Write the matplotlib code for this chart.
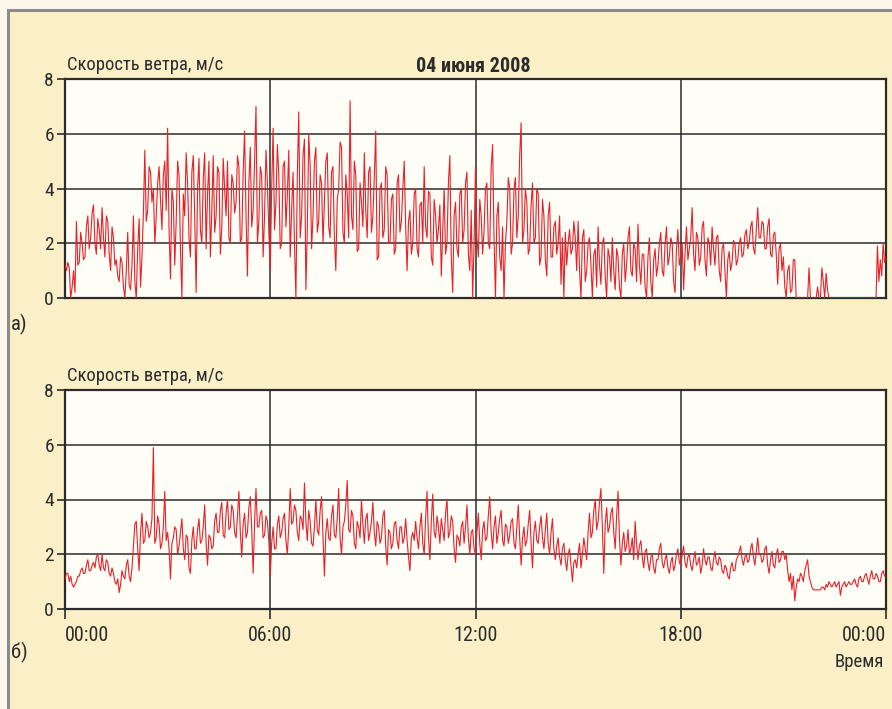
import numpy as np
import matplotlib
matplotlib.use("Agg")
import matplotlib.pyplot as plt
from matplotlib.patches import Rectangle
from matplotlib import font_manager

# wind speed, m/s, 24 readings per hour (2.5 min)
speed_a = [
    1.2, 1.0, 1.3, 1.1, 0.0, 0.4, 1.0, 0.2, 2.8, 1.2, 1.3, 2.4, 2.0, 1.4, 1.5, 2.6, 3.0, 1.8, 2.2, 3.1, 3.4, 2.0, 1.6, 2.9,  # 00
    2.5, 1.8, 3.3, 2.2, 1.5, 3.0, 2.8, 1.6, 1.0, 2.6, 2.2, 1.2, 1.4, 0.8, 0.6, 1.5, 1.3, 0.4, 0.0, 1.0, 2.4, 0.5, 0.3, 1.2,  # 01
    3.0, 0.6, 0.0, 1.8, 2.9, 0.4, 1.5, 3.1, 5.4, 2.8, 3.2, 4.8, 4.6, 3.5, 4.0, 2.0, 3.0, 4.2, 4.8, 3.6, 2.5, 4.5, 5.0, 3.2,  # 02
    6.2, 2.5, 0.7, 4.0, 3.5, 1.2, 2.8, 5.0, 4.5, 1.8, 0.0, 3.8, 3.0, 5.3, 4.2, 2.2, 1.5, 4.6, 5.2, 3.0, 0.2, 4.0, 5.1, 2.5,  # 03
    2.0, 4.4, 5.3, 1.8, 3.8, 5.0, 1.5, 3.2, 5.2, 2.4, 3.0, 4.8, 4.6, 1.6, 2.6, 5.1, 4.0, 3.0, 5.0, 2.2, 2.0, 4.5, 4.2, 3.1,  # 04
    3.5, 5.2, 4.8, 2.0, 2.2, 4.6, 6.1, 3.0, 0.8, 4.2, 5.5, 2.6, 3.2, 5.0, 7.0, 2.0, 2.8, 4.8, 4.5, 1.5, 3.0, 5.4, 4.2, 2.4,  # 05
    1.0, 4.0, 6.2, 2.5, 3.5, 5.6, 4.5, 1.8, 2.0, 4.8, 5.0, 2.6, 3.8, 5.4, 1.5, 3.2, 4.6, 2.0, 0.0, 4.5, 6.8, 2.2, 3.0, 5.2,  # 06
    5.8, 0.3, 2.5, 6.0, 4.8, 1.8, 3.0, 5.0, 5.5, 2.4, 2.8, 4.5, 4.2, 2.0, 3.5, 5.0, 5.3, 2.6, 2.2, 4.6, 4.8, 2.2, 1.0, 3.6,  # 07
    4.0, 5.7, 5.5, 2.4, 2.0, 4.5, 3.8, 2.2, 7.2, 3.0, 2.5, 5.0, 4.5, 1.7, 1.8, 4.2, 3.5, 2.6, 5.3, 3.2, 2.2, 4.6, 4.8, 2.4,  # 08
    3.0, 4.4, 6.1, 1.4, 1.5, 4.0, 4.2, 2.2, 2.5, 4.8, 4.5, 2.0, 2.0, 3.6, 3.8, 1.6, 1.8, 4.2, 4.5, 2.4, 2.8, 4.0, 5.0, 2.6,  # 09
    1.0, 2.8, 3.2, 1.6, 2.0, 3.8, 4.0, 1.8, 1.5, 3.4, 3.5, 2.0, 4.8, 2.6, 2.2, 3.9, 3.8, 1.5, 1.2, 3.6, 3.0, 2.0, 2.5, 3.4,  # 10
    0.8, 2.4, 4.0, 1.6, 2.0, 4.2, 5.2, 1.5, 0.2, 3.0, 3.5, 1.8, 1.5, 3.8, 4.0, 2.0, 2.5, 4.2, 4.6, 1.6, 1.0, 3.2, 0.0, 2.0,  # 11
    4.8, 2.2, 1.5, 3.6, 3.0, 1.6, 2.5, 4.0, 4.2, 2.0, 1.8, 4.8, 5.6, 2.2, 0.0, 3.0, 3.5, 1.5, 1.0, 2.6, 0.0, 2.0, 2.8, 4.4,  # 12
    4.0, 1.6, 2.0, 4.0, 4.4, 2.2, 3.0, 5.2, 6.4, 2.0, 2.5, 4.0, 3.5, 1.6, 1.8, 3.4, 4.2, 2.0, 2.2, 4.0, 3.8, 1.2, 1.5, 3.6,  # 13
    3.0, 1.4, 0.8, 3.0, 3.5, 1.5, 1.5, 2.6, 2.8, 1.6, 2.0, 3.0, 0.5, 2.2, 0.0, 2.4, 1.2, 2.0, 2.5, 1.6, 1.8, 2.8, 2.2, 1.0,  # 14
    2.8, 1.0, 0.0, 2.2, 2.5, 0.6, 1.0, 2.0, 2.2, 1.2, 0.0, 1.6, 1.8, 0.4, 2.6, 1.2, 0.5, 2.0, 2.2, 0.8, 0.0, 1.8, 1.5, 0.6,  # 15
    2.2, 1.0, 0.3, 1.8, 1.5, 0.4, 0.0, 1.6, 2.0, 0.6, 1.2, 2.2, 2.6, 1.0, 0.8, 2.0, 1.8, 0.6, 2.7, 1.2, 0.5, 1.6, 1.6, 0.4,  # 16
    0.0, 1.5, 2.2, 0.6, 0.0, 1.4, 1.8, 0.8, 1.2, 2.0, 2.4, 1.0, 0.8, 2.0, 2.6, 1.2, 1.5, 2.2, 2.0, 0.6, 0.2, 1.8, 2.5, 1.2,  # 17
    1.5, 2.0, 0.3, 1.6, 2.6, 1.4, 1.8, 2.2, 3.3, 1.6, 1.0, 2.4, 2.2, 1.2, 1.5, 2.6, 2.8, 1.4, 0.8, 2.2, 2.0, 1.2, 2.6, 1.8,  # 18
    1.2, 2.2, 2.3, 1.0, 0.6, 1.8, 2.0, 1.0, 0.0, 1.4, 1.7, 1.0, 1.3, 2.1, 2.0, 1.2, 1.4, 2.0, 2.2, 1.5, 1.6, 2.3, 2.5, 1.8,  # 19
    2.0, 2.6, 2.8, 1.8, 1.6, 2.5, 3.3, 2.2, 2.2, 2.8, 2.7, 1.8, 1.8, 2.6, 2.9, 1.6, 1.5, 2.3, 2.4, 1.6, 0.5, 1.8, 2.0, 1.0,  # 20
    1.5, 0.4, 0.0, 1.0, 1.2, 0.2, 0.3, 1.4, 1.4, 0.0, 0.0, 0.0, 0.0, 0.0, 0.0, 0.0, 0.0, 0.0, 1.1, 0.0, 0.0, 0.0, 0.0, 0.0,  # 21
    0.4, 0.0, 0.0, 1.1, 0.6, 0.0, 0.9, 0.3, 0.0, 0.0, 0.0, 0.0, 0.0, 0.0, 0.0, 0.0, 0.0, 0.0, 0.0, 0.0, 0.0, 0.0, 0.0, 0.0,  # 22
    0.0, 0.0, 0.0, 0.0, 0.0, 0.0, 0.0, 0.0, 0.0, 0.0, 0.0, 0.0, 0.0, 0.0, 0.0, 0.0, 0.0, 0.0, 1.9, 0.6, 1.4, 0.8, 2.0, 1.3,  # 23
    1.5,
]

speed_b = [
    1.1, 1.3, 1.3, 1.0, 1.2, 0.9, 0.8, 0.9, 1.0, 1.2, 1.2, 1.4, 1.5, 1.3, 1.3, 1.6, 1.8, 1.4, 1.4, 1.6, 1.7, 1.5, 1.9, 2.0,  # 00
    1.6, 1.4, 2.0, 1.5, 1.4, 1.8, 1.7, 1.3, 1.2, 1.5, 1.3, 1.0, 0.9, 1.1, 0.6, 0.9, 1.4, 1.2, 1.1, 1.6, 1.8, 1.2, 1.0, 1.5,  # 01
    2.3, 3.1, 3.2, 2.2, 1.4, 2.8, 3.5, 2.4, 2.5, 3.2, 3.0, 2.6, 2.8, 3.3, 5.9, 2.4, 2.6, 3.4, 3.1, 2.2, 2.4, 3.0, 4.3, 2.5,  # 02
    2.8, 2.2, 1.1, 2.4, 2.6, 3.0, 2.9, 2.0, 2.3, 2.8, 3.3, 2.2, 1.8, 2.7, 2.6, 1.5, 1.3, 2.5, 3.0, 2.2, 2.2, 2.9, 3.3, 2.4,  # 03
    2.5, 3.0, 3.8, 2.4, 1.6, 2.7, 2.6, 2.2, 2.3, 3.2, 3.5, 2.8, 2.8, 3.6, 3.9, 2.7, 2.6, 3.5, 4.0, 2.9, 3.0, 3.8, 3.6, 2.8,  # 04
    2.6, 3.4, 4.3, 2.8, 1.9, 3.1, 3.5, 2.6, 2.8, 3.7, 4.1, 2.9, 1.3, 3.2, 4.4, 3.0, 3.0, 3.5, 3.6, 2.6, 2.7, 3.4, 3.2, 2.5,  # 05
    1.2, 2.4, 3.0, 2.2, 2.2, 3.1, 3.4, 2.6, 2.8, 3.3, 3.5, 2.5, 2.0, 3.0, 4.4, 3.1, 3.2, 3.8, 3.6, 2.8, 2.5, 3.4, 3.3, 2.9,  # 06
    4.6, 3.2, 2.5, 3.6, 3.2, 2.4, 2.3, 3.0, 4.0, 2.9, 2.7, 3.6, 4.1, 2.6, 1.2, 2.8, 3.3, 2.6, 2.5, 3.4, 3.8, 2.7, 2.6, 3.3,  # 07
    4.4, 2.6, 2.0, 3.0, 3.2, 3.8, 4.7, 2.9, 2.8, 3.6, 3.4, 2.4, 2.2, 3.2, 3.0, 2.6, 4.0, 3.1, 2.4, 3.3, 3.5, 2.5, 2.8, 3.2,  # 08
    3.9, 2.8, 2.3, 3.2, 3.0, 2.4, 2.6, 3.4, 3.6, 2.3, 1.6, 2.9, 2.8, 2.2, 2.4, 3.1, 3.2, 2.5, 2.2, 3.0, 3.0, 2.4, 2.6, 3.3,  # 09
    2.5, 1.9, 1.4, 2.6, 2.8, 2.5, 3.2, 2.6, 2.2, 3.0, 3.5, 2.4, 2.0, 3.3, 4.3, 2.6, 1.8, 3.2, 4.2, 2.8, 2.6, 3.4, 3.0, 2.4,  # 10
    3.3, 2.9, 2.5, 3.5, 4.0, 2.6, 2.8, 3.4, 3.2, 2.2, 1.7, 2.7, 2.6, 2.3, 3.0, 3.2, 2.4, 3.0, 3.8, 2.6, 2.0, 2.8, 2.9, 2.2,  # 11
    2.0, 2.8, 3.5, 2.4, 1.8, 2.9, 3.2, 2.5, 2.6, 3.4, 4.1, 2.8, 2.2, 3.0, 3.4, 2.4, 2.8, 3.3, 3.6, 2.5, 2.3, 3.1, 3.0, 2.4,  # 12
    2.7, 3.2, 3.3, 2.4, 2.2, 3.0, 3.8, 2.6, 1.6, 2.6, 3.0, 2.3, 2.5, 3.1, 3.6, 2.4, 1.5, 2.8, 3.2, 2.5, 2.4, 3.0, 3.4, 2.6,  # 13
    2.2, 2.9, 3.5, 2.4, 2.0, 2.8, 3.3, 2.2, 1.8, 2.3, 2.6, 1.9, 1.6, 2.2, 2.4, 1.8, 1.4, 2.0, 2.2, 1.6, 1.0, 1.7, 1.8, 1.5,  # 14
    2.0, 2.4, 1.5, 2.0, 2.6, 2.2, 1.8, 2.8, 3.5, 2.6, 2.8, 3.6, 4.0, 2.9, 3.2, 3.9, 4.4, 3.0, 1.3, 3.1, 3.7, 2.8, 3.0, 3.5,  # 15
    3.7, 2.8, 2.2, 3.4, 4.3, 2.6, 1.6, 2.4, 2.8, 2.1, 2.3, 2.9, 2.0, 2.2, 2.6, 1.8, 3.2, 2.4, 1.8, 2.3, 2.5, 1.9, 1.5, 2.1,  # 16
    2.2, 1.7, 1.4, 1.9, 2.0, 1.5, 1.3, 1.8, 1.8, 2.2, 2.4, 1.7, 1.5, 1.8, 2.0, 1.5, 1.3, 1.7, 1.9, 1.4, 1.6, 2.0, 2.2, 1.7,  # 17
    1.6, 2.0, 2.3, 1.7, 1.5, 1.9, 2.0, 1.6, 1.4, 1.8, 2.1, 1.6, 1.7, 1.9, 1.3, 1.6, 2.2, 1.8, 1.6, 1.9, 1.9, 1.5, 1.4, 1.8,  # 18
    2.1, 1.7, 1.6, 1.9, 1.8, 1.4, 1.3, 1.6, 1.5, 1.2, 1.1, 1.5, 1.7, 1.4, 1.4, 1.8, 1.9, 2.1, 2.3, 1.8, 1.6, 1.9, 2.0, 1.7,  # 19
    1.8, 2.2, 2.4, 1.9, 1.6, 2.1, 2.6, 2.0, 2.0, 1.7, 1.8, 2.2, 2.3, 1.6, 1.3, 1.8, 2.1, 1.6, 1.5, 2.0, 2.2, 1.7, 1.8, 2.1,  # 20
    2.1, 1.8, 2.0, 1.4, 1.0, 1.3, 0.7, 1.2, 0.3, 0.8, 1.1, 1.0, 1.3, 1.2, 1.0, 1.4, 1.6, 1.8, 1.2, 1.0, 0.8, 0.7, 0.7, 0.7,  # 21
    0.7, 0.7, 0.7, 0.8, 0.8, 0.7, 0.9, 0.8, 1.0, 0.9, 0.8, 0.9, 1.0, 0.8, 0.9, 1.0, 0.5, 0.8, 0.9, 1.0, 0.8, 0.9, 1.0, 0.9,  # 22
    0.9, 1.0, 1.1, 0.9, 0.8, 1.1, 1.2, 1.0, 1.0, 1.2, 1.3, 1.1, 0.9, 1.2, 1.4, 1.1, 1.1, 1.3, 1.2, 1.0, 1.0, 1.3, 1.4, 1.2,  # 23
    1.2,
]

per_hour = 24
hour_ticks = [0, 6, 12, 18, 24]
hour_labels = ["00:00", "06:00", "12:00", "18:00", "00:00"]
speed_ticks = [0, 2, 4, 6, 8]

# narrow font if one is there
names = {f.name for f in font_manager.fontManager.ttflist}
fam = "Roboto"
for cand in ["Roboto Condensed", "Liberation Sans Narrow", "Open Sans Condensed",
             "DejaVu Sans Condensed"]:
    if cand in names:
        fam = cand
        break
plt.rcParams["font.family"] = [fam, "DejaVu Sans"]

BG = "#faefc7"
FACE = "#fffef6"
INK = "#2b2b2b"
RED = "#e8202a"

fig = plt.figure(figsize=(8.92, 7.09), dpi=100)
fig.patch.set_facecolor("#fbf7ea")
frame = Rectangle((8 / 892, -0.01), 1.0, 1 - 10 / 709 + 0.01,
                  transform=fig.transFigure, facecolor=BG,
                  edgecolor="#8c8c8c", linewidth=2.2, zorder=-5)
fig.patches.append(frame)

t_a = np.arange(len(speed_a)) / per_hour
t_b = np.arange(len(speed_b)) / per_hour

ax_a = fig.add_axes([65 / 892, 1 - 298 / 709, 821 / 892, 219 / 709])
ax_b = fig.add_axes([65 / 892, 1 - 609 / 709, 821 / 892, 219 / 709])

for ax, t, v in [(ax_a, t_a, speed_a), (ax_b, t_b, speed_b)]:
    ax.set_facecolor(FACE)
    ax.plot(t, v, color=RED, lw=0.8, zorder=3)
    ax.set_xlim(0, 24)
    ax.set_ylim(0, 8)
    ax.set_yticks(speed_ticks)
    ax.set_xticks(hour_ticks)
    ax.grid(True, color=INK, lw=1.1)
    ax.set_axisbelow(True)
    for s in ax.spines.values():
        s.set_color(INK)
        s.set_linewidth(1.6)
    ax.tick_params(axis="y", length=6, width=1.2, color=INK, labelsize=14,
                   labelcolor=INK, pad=2)
    ax.text(0.003, 1.025, "Скорость ветра, м/с", transform=ax.transAxes,
            fontsize=13.3, color=INK, ha="left", va="bottom")

ax_a.tick_params(axis="x", length=0, labelbottom=False)
ax_b.set_xticklabels(hour_labels)
ax_b.tick_params(axis="x", length=7, width=1.2, color=INK, labelsize=14.5,
                 labelcolor=INK, pad=5)
xl = ax_b.get_xticklabels()
xl[0].set_ha("left")
xl[-1].set_ha("right")

fig.text(473 / 892, 1 - 66 / 709, "04 июня 2008", fontsize=14.5,
         fontweight="bold", color=INK, ha="center", va="center")
fig.text(11 / 892, 1 - 324 / 709, "а)", fontsize=15, color=INK,
         ha="left", va="center")
fig.text(11 / 892, 1 - 652 / 709, "б)", fontsize=15, color=INK,
         ha="left", va="center")
fig.text(884 / 892, 1 - 662 / 709, "Время", fontsize=13.5, color=INK,
         ha="right", va="center")

fig.savefig("out.png", dpi=100, facecolor=fig.get_facecolor())
